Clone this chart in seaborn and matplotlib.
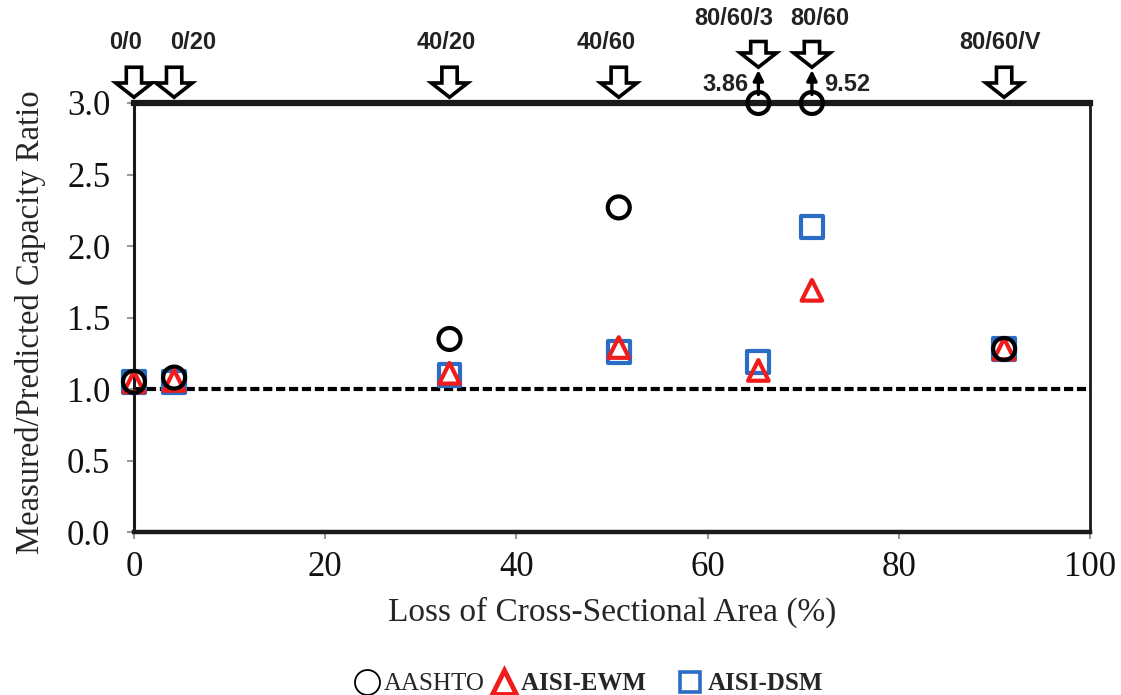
import numpy as np
import pandas as pd
import seaborn as sns
import matplotlib
matplotlib.use("Agg")
import matplotlib.pyplot as plt
from matplotlib.patches import FancyArrow
from matplotlib.lines import Line2D

# ---------------- data ----------------
specimens = ["0/0", "0/20", "40/20", "40/60", "80/60/3", "80/60", "80/60/V"]
loss_pct = [0.0, 4.2, 33.0, 50.7, 65.3, 70.9, 91.0]
aashto = [1.05, 1.08, 1.35, 2.27, 3.86, 9.52, 1.28]
aisi_ewm = [1.05, 1.06, 1.11, 1.29, 1.13, 1.69, 1.28]
aisi_dsm = [1.05, 1.05, 1.10, 1.26, 1.19, 2.13, 1.28]
y_cap = 3.0
xticks = [0, 20, 40, 60, 80, 100]
yticks = [0.0, 0.5, 1.0, 1.5, 2.0, 2.5, 3.0]

sns.set_theme(style="white")
plt.rcParams["font.family"] = ["Liberation Serif", "DejaVu Serif"]

fig = plt.figure(figsize=(11.21, 6.95), dpi=100)
ax = fig.add_axes([0.1195, 0.2345, 0.853, 0.6173])

df = pd.DataFrame({"loss": loss_pct, "AASHTO": aashto,
                   "AISI-EWM": aisi_ewm, "AISI-DSM": aisi_dsm})
df["AASHTO_plot"] = np.minimum(df["AASHTO"], y_cap)

blue = "#2b6cc4"
red = "#f01c1c"

# reference line at 1.0
sns.lineplot(x=[0, 100], y=[1.0, 1.0], ax=ax, color="black", lw=3,
             linestyle=(0, (2.2, 0.9)), zorder=2)

sc_kw = dict(linewidth=3.0, facecolor="none", clip_on=False, legend=False)
sns.scatterplot(data=df, x="loss", y="AISI-DSM", marker="s", edgecolor=blue,
                ax=ax, zorder=3, s=250, **sc_kw)
sns.scatterplot(data=df, x="loss", y="AISI-EWM", marker="^", edgecolor=red,
                ax=ax, zorder=4, s=220, **sc_kw)
sns.scatterplot(data=df, x="loss", y="AASHTO_plot", marker="o", edgecolor="black",
                ax=ax, zorder=5, s=250, **sc_kw)

ax.set_xlim(0, 100)
ax.set_ylim(0, 3.0)
ax.set_xticks(xticks)
ax.set_yticks(yticks)
ax.set_yticklabels([f"{v:.1f}" for v in yticks])
ax.tick_params(axis="both", labelsize=25, length=5, width=1.5, color="#999999",
               direction="out", left=True, bottom=True)
ax.tick_params(axis="y", pad=12)
ax.tick_params(axis="x", pad=9)
for lab in ax.get_xticklabels() + ax.get_yticklabels():
    lab.set_color("#111111")

for side, lw in [("left", 2.2), ("bottom", 3.2), ("right", 2.0), ("top", 4.5)]:
    ax.spines[side].set_visible(True)
    ax.spines[side].set_color("#1a1a1a")
    ax.spines[side].set_linewidth(lw)

ax.set_xlabel("Loss of Cross-Sectional Area (%)", fontsize=24)
ax.set_ylabel("Measured/Predicted Capacity Ratio", fontsize=23.5)
ax.xaxis.set_label_coords(0.5, -0.15)
ax.yaxis.set_label_coords(-0.092, 0.49)

# ---------------- specimen arrows ----------------
narrow = ["Liberation Sans Narrow", "Liberation Sans", "DejaVu Sans"]
tier = [0, 0, 0, 0, 1, 1, 0]
label_dx = [-6, 14, -2, -9, -18, 6, -3]   # label offset from arrow, points
for name, x, t, dx in zip(specimens, loss_pct, tier, label_dx):
    if t == 0:
        y_tail, y_tip, y_lab = 3.25, 3.04, 3.42
    else:
        y_tail, y_tip, y_lab = 3.43, 3.25, 3.59
    arr = FancyArrow(x, y_tail, 0, y_tip - y_tail, width=1.6, head_width=3.8,
                     head_length=0.10, length_includes_head=True,
                     fc="white", ec="black", lw=2.6, clip_on=False, zorder=6)
    ax.add_patch(arr)
    ax.annotate(name, xy=(x, y_lab), xytext=(dx, 0), textcoords="offset points",
                ha="center", va="center", fontsize=17, fontweight="bold",
                family=narrow, color="#222222", annotation_clip=False)

# off-scale AASHTO values
for x, v in zip(loss_pct, aashto):
    if v > y_cap:
        ax.annotate("", xy=(x, 3.25), xytext=(x, 3.04),
                    arrowprops=dict(arrowstyle="-|>,head_length=0.5,head_width=0.25",
                                    color="black", lw=2.4),
                    annotation_clip=False)
off = [(i, v) for i, v in enumerate(aashto) if v > y_cap]
(i1, v1), (i2, v2) = off
ax.text(loss_pct[i1] - 1.0, 3.13, f"{v1:.2f}", ha="right", va="center", fontsize=17,
        fontweight="bold", family=narrow, color="#222222", clip_on=False)
ax.text(loss_pct[i2] + 1.3, 3.13, f"{v2:.2f}", ha="left", va="center", fontsize=17,
        fontweight="bold", family=narrow, color="#222222", clip_on=False)

# ---------------- legend ----------------
handles = [
    Line2D([], [], marker="o", ls="none", mfc="none", mec="black", ms=18, mew=1.3),
    Line2D([], [], marker="^", ls="none", mfc="none", mec=red, ms=17, mew=3.5),
    Line2D([], [], marker="s", ls="none", mfc="none", mec=blue, ms=15, mew=2.6),
]
leg = fig.legend(handles, ["AASHTO", "AISI-EWM    ", "AISI-DSM"], loc="center",
                 bbox_to_anchor=(0.525, 0.016), ncol=3, frameon=False, fontsize=18,
                 handletextpad=0.2, columnspacing=0.25, handlelength=1.0)
for i, t in enumerate(leg.get_texts()):
    if i > 0:
        t.set_fontweight("bold")

fig.savefig("out.png", dpi=100, facecolor="white")
